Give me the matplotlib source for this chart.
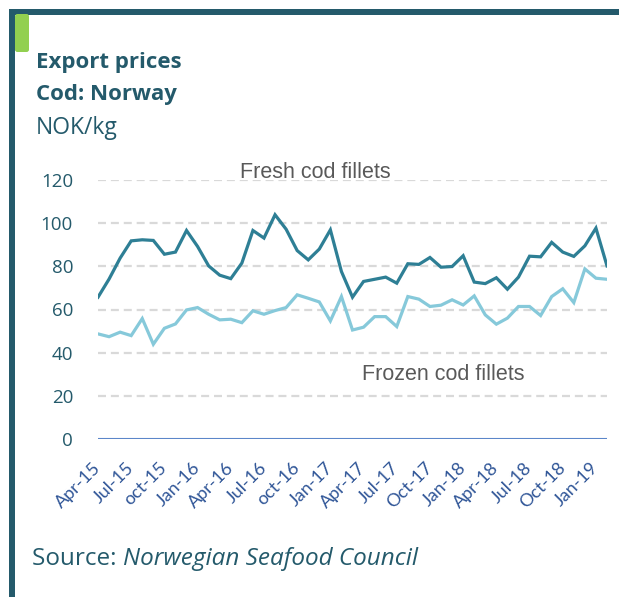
import matplotlib
matplotlib.use('Agg')
import matplotlib.pyplot as plt
from matplotlib.patches import Rectangle, FancyBboxPatch

# monthly export prices, Apr-15 .. Feb-19 (NOK/kg)
fresh = [65.7, 74.1, 83.8, 91.8, 92.3, 92.0, 85.6, 86.6, 96.6, 89.2, 80.2, 75.9,
         74.3, 81.5, 96.6, 93.1, 103.9, 97.2, 87.3, 83.0, 88.0, 96.9, 77.6, 65.7,
         73.0, 74.0, 75.0, 72.2, 81.2, 80.9, 84.1, 79.6, 79.9, 84.9, 72.7, 72.0,
         74.7, 69.4, 75.0, 84.7, 84.4, 91.1, 86.6, 84.6, 89.5, 97.7, 80.2]
frozen = [48.7, 47.4, 49.5, 47.9, 55.8, 43.9, 51.3, 53.3, 59.8, 60.9, 57.8, 55.2,
          55.5, 53.9, 59.4, 57.8, 59.5, 60.9, 66.8, 65.2, 63.5, 54.7, 66.0, 50.5,
          51.8, 56.7, 56.7, 52.1, 66.0, 64.8, 61.4, 62.0, 64.5, 62.1, 66.3, 57.5,
          53.2, 56.0, 61.4, 61.4, 57.2, 66.0, 69.6, 63.2, 78.8, 74.5, 74.0]
tick_labels = ['Apr-15', 'Jul-15', 'oct-15', 'Jan-16', 'Apr-16', 'Jul-16', 'oct-16',
               'Jan-17', 'Apr-17', 'Jul-17', 'Oct-17', 'Jan-18', 'Apr-18', 'Jul-18',
               'Oct-18', 'Jan-19']
y_ticks = [0, 20, 40, 60, 80, 100, 120]

W, H = 619, 597
teal = '#245a6b'
dark_line = '#2e7f95'
light_line = '#86c9da'


def fx(px):
    return px / W


def fy(py):
    return 1 - py / H


fig = plt.figure(figsize=(W / 100, H / 100), dpi=100)

# frame and green tab
fig.patches.append(Rectangle((fx(9), 0), fx(6), fy(9), transform=fig.transFigure,
                             color=teal, lw=0))
fig.patches.append(Rectangle((fx(9), fy(15)), 1 - fx(9), 6 / H,
                             transform=fig.transFigure, color=teal, lw=0))
fig.patches.append(FancyBboxPatch((fx(15), fy(52)), fx(14), 38 / H,
                                  boxstyle='round,pad=0,rounding_size=0.004',
                                  transform=fig.transFigure, color='#92d050', lw=0))

# titles
fig.text(fx(36), fy(68), 'Export prices', fontsize=16, fontweight='bold',
         family='Open Sans', color=teal, va='baseline')
fig.text(fx(36), fy(100), 'Cod: Norway', fontsize=16, fontweight='bold',
         family='Open Sans', color=teal, va='baseline')
fig.text(fx(36), fy(134), 'NOK/kg', fontsize=16.5, family='Open Sans', color=teal,
         va='baseline')

ax = fig.add_axes([fx(98), fy(439), (607 - 98) / W, (439 - 180) / H])
x = list(range(len(fresh)))
ax.plot(x, fresh, color=dark_line, lw=2.3, solid_joinstyle='miter', zorder=3)
ax.plot(x, frozen, color=light_line, lw=2.3, solid_joinstyle='miter', zorder=3)

for v in y_ticks[1:]:
    ax.axhline(v, color='#d9d9d9', lw=1.6, dashes=(3.6, 2.2), zorder=1)
ax.axhline(0, color='#5b86c9', lw=1.5, zorder=2)

ax.set_xlim(0, len(fresh) - 1)
ax.set_ylim(0, 120)
for s in ax.spines.values():
    s.set_visible(False)

ax.set_yticks(y_ticks)
ax.set_yticklabels([str(v) for v in y_ticks], family='Open Sans', fontsize=13.5,
                   color=teal)
ax.tick_params(axis='y', length=0, pad=18)

ax.set_xticks(range(0, len(fresh), 3))
ax.set_xticklabels(tick_labels, rotation=45, ha='right', va='center',
                   rotation_mode='anchor', family='Lato', fontsize=13,
                   color='#2f5597')
ax.tick_params(axis='x', length=0, pad=19)

ax.text(12.8, 121, 'Fresh cod fillets', family='Liberation Sans', fontsize=15.5,
        color='#595959', va='baseline')
ax.text(23.9, 27.3, 'Frozen cod fillets', family='Liberation Sans', fontsize=15.5,
        color='#595959', va='baseline')

# source line: regular + italic
t1 = fig.text(fx(32), fy(565), 'Source: ', family='Open Sans', fontsize=17.5,
              color=teal, va='baseline')
fig.canvas.draw()
bb = t1.get_window_extent()
fig.text(bb.x1 / W, fy(565), 'Norwegian Seafood Council', family='Open Sans',
         style='italic', fontsize=17.5, color=teal, va='baseline')

fig.savefig('out.png', dpi=100)
